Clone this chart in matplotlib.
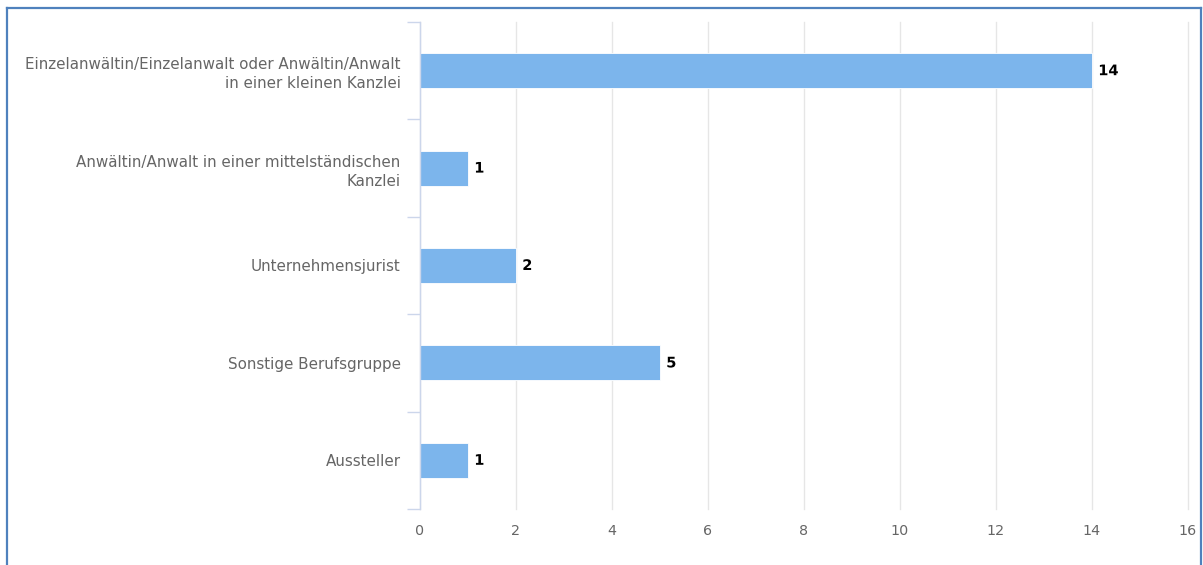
import matplotlib
matplotlib.use("Agg")
import matplotlib.pyplot as plt
import matplotlib.patheffects as pe
from matplotlib.lines import Line2D

plt.rcParams["font.family"] = ["DejaVu Sans"]

categories = [
    "Einzelanwältin/Einzelanwalt oder Anwältin/Anwalt\nin einer kleinen Kanzlei",
    "Anwältin/Anwalt in einer mittelständischen\nKanzlei",
    "Unternehmensjurist",
    "Sonstige Berufsgruppe",
    "Aussteller",
]
values = [14, 1, 2, 5, 1]
xticks = [0, 2, 4, 6, 8, 10, 12, 14, 16]

W, H = 1203, 565
fig = plt.figure(figsize=(W / 100, H / 100), dpi=100)
fig.patch.set_facecolor("white")

# blue frame (left, top, right)
frame_col = "#4f81bd"
fig.add_artist(Line2D([7 / W, 7 / W], [0, 1 - 8 / H], color=frame_col, lw=1.6, transform=fig.transFigure))
fig.add_artist(Line2D([7 / W, 1201 / W], [1 - 8 / H, 1 - 8 / H], color=frame_col, lw=1.6, transform=fig.transFigure))
fig.add_artist(Line2D([1201 / W, 1201 / W], [0, 1 - 8 / H], color=frame_col, lw=1.6, transform=fig.transFigure))

left, right, top, bottom = 420, 1188, 22, 509
ax = fig.add_axes([left / W, 1 - bottom / H, (right - left) / W, (bottom - top) / H])

y = list(range(len(categories)))
ax.barh(y, values, height=0.36, color="#7cb5ec", edgecolor="#ffffff", linewidth=0.6, zorder=3)

ax.set_xlim(0, 16)
ax.set_ylim(len(categories) - 0.5, -0.5)
ax.set_xticks(xticks)
ax.set_xticklabels([str(t) for t in xticks])
ax.tick_params(axis="x", length=0, pad=11, labelsize=10.3, labelcolor="#666666")

ax.set_yticks(y)
ax.set_yticklabels(categories, fontsize=10.9, color="#666666", ha="right", linespacing=1.35)
ax.tick_params(axis="y", which="major", length=0, pad=14)
ax.set_yticks([i - 0.5 for i in range(len(categories) + 1)], minor=True)
ax.tick_params(axis="y", which="minor", length=9.5, width=1, color="#ccd6eb")

for s in ["top", "right", "bottom"]:
    ax.spines[s].set_visible(False)
ax.spines["left"].set_color("#ccd6eb")
ax.spines["left"].set_linewidth(1)
ax.spines["left"].set_zorder(4)

ax.grid(axis="x", color="#e6e6e6", linewidth=1, zorder=0)
ax.grid(axis="y", visible=False)
ax.set_axisbelow(True)
for gl in ax.get_xgridlines():
    gl.set_clip_on(False)

for yi, v in zip(y, values):
    ax.annotate(str(v), xy=(v, yi), xytext=(4.5, 0), textcoords="offset points",
                ha="left", va="center", fontsize=10.5, fontweight="bold", color="black",
                path_effects=[pe.withStroke(linewidth=2, foreground="white")], zorder=5)

fig.savefig("out.png", dpi=100)
